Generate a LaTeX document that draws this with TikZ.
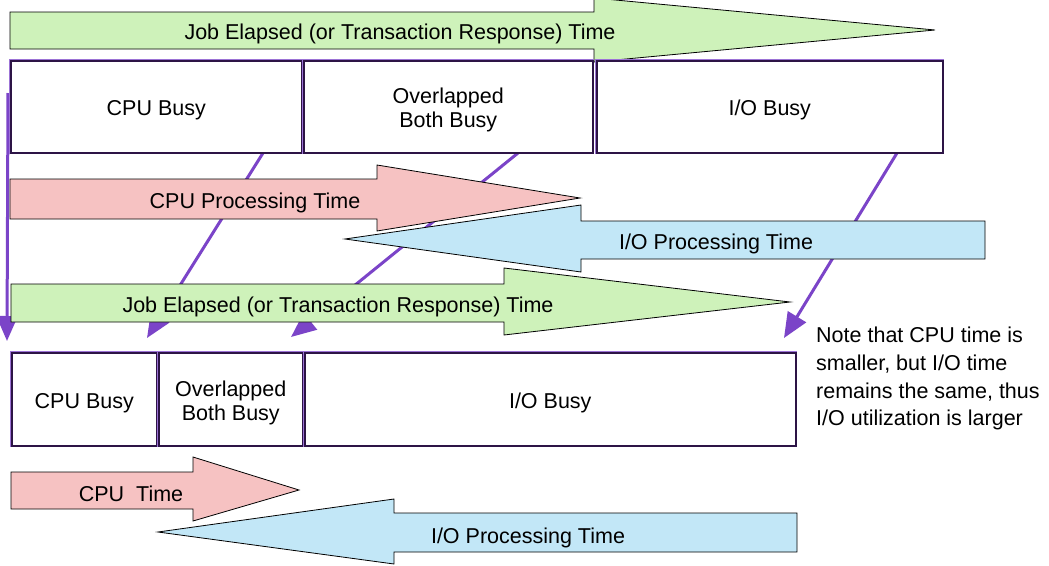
\documentclass[tikz,border=0pt]{standalone}
\usepackage{fontspec}
\setmainfont{Liberation Sans}
\usetikzlibrary{arrows.meta,calc}

\definecolor{jobgreen}{RGB}{206,242,186}
\definecolor{cpupink}{RGB}{246,194,194}
\definecolor{ioblue}{RGB}{194,231,247}
\definecolor{linkpurple}{RGB}{123,68,200}
\definecolor{boxedge}{RGB}{45,20,70}

% box captions sit a little below the geometric centre
\newcommand{\boxcaption}[1]{\raisebox{-4pt}[\height][\depth]{%
  \begin{tabular}{@{}c@{}}#1\end{tabular}}}

\begin{document}
\begin{tikzpicture}[x=1pt,y=-1pt,
  font=\fontsize{21.5}{24}\selectfont,
  busybox/.style={preaction={draw=linkpurple!75,line width=3pt},
    draw=boxedge, line width=1.5pt, fill=white, inner sep=0pt,
    anchor=north west},
  band/.style={draw=black, line width=0.8pt, line join=miter},
  link/.style={draw=linkpurple, line width=3pt,
    -{Triangle[length=25pt,width=21pt]}},
  label/.style={inner sep=0pt, align=center, yshift=-3pt}]

\useasboundingbox (0,0) rectangle (1049,565);

% end points of the purple links
\coordinate (s1) at (8,93);    \coordinate (e1) at (7,341);
\coordinate (s2) at (263,153); \coordinate (e2) at (147,338);
\coordinate (s3) at (518,153); \coordinate (e3) at (291,337);
\coordinate (s4) at (897,153); \coordinate (e4) at (784,338);

\draw[link] (s1) -- (e1);
\draw[link] (s2) -- (e2);
\draw[link] (s3) -- (e3);
\draw[link] (s4) -- (e4);

% block arrows
\draw[band, fill=jobgreen] (10,12) -- (594,12) -- (594,-2) -- (935,30)
  -- (594,62) -- (594,49) -- (10,49) -- cycle;
\node[label] (jobA) at (400,31) {Job Elapsed (or Transaction Response) Time};

\draw[band, fill=cpupink] (10,179) -- (377,179) -- (377,165) -- (580,198)
  -- (377,231) -- (377,219) -- (10,219) -- cycle;
\node[label] (cpuP) at (255,200) {CPU Processing Time};

\draw[band, fill=ioblue] (985,221) -- (581,221) -- (581,205) -- (345,239)
  -- (581,272) -- (581,259) -- (985,259) -- cycle;
\node[label] (ioP) at (716,241) {I/O Processing Time};

\draw[band, fill=jobgreen] (11,284) -- (504,284) -- (504,268) -- (790,302)
  -- (504,335) -- (504,322) -- (11,322) -- cycle;
\node[label] (jobB) at (338,304) {Job Elapsed (or Transaction Response) Time};

\draw[band, fill=cpupink] (11,472) -- (193,472) -- (193,457) -- (299,490)
  -- (193,521) -- (193,509) -- (11,509) -- cycle;
\node[label] (cpuT) at (131,491) {CPU~~Time};

\draw[band, fill=ioblue] (797,513) -- (394,513) -- (394,499) -- (158,532)
  -- (394,564) -- (394,552) -- (797,552) -- cycle;
\node[label] (ioT) at (528,535) {I/O Processing Time};

% busy periods, first run
\node[busybox, minimum width=291pt, minimum height=92pt] (cpuA) at (10,60)
  {\boxcaption{CPU Busy}};
\node[busybox, minimum width=289pt, minimum height=92pt] (ovA) at (303,60)
  {\boxcaption{Overlapped\\Both Busy}};
\node[busybox, minimum width=346pt, minimum height=92pt] (ioA) at (596,60)
  {\boxcaption{I/O Busy}};

% busy periods, faster CPU
\node[busybox, minimum width=145pt, minimum height=93pt] (cpuB) at (11,352)
  {\boxcaption{CPU Busy}};
\node[busybox, minimum width=144pt, minimum height=93pt] (ovB) at (158,352)
  {\boxcaption{Overlapped\\Both Busy}};
\node[busybox, minimum width=491pt, minimum height=93pt] (ioB) at (304,352)
  {\boxcaption{I/O Busy}};

\node[inner sep=0pt, align=left, anchor=north west,
  font=\fontsize{21.5}{27.7}\selectfont] (note) at (816,327)
  {Note that CPU time is\\smaller, but I/O time\\remains the same, thus\\I/O utilization is larger};
\end{tikzpicture}
\end{document}
